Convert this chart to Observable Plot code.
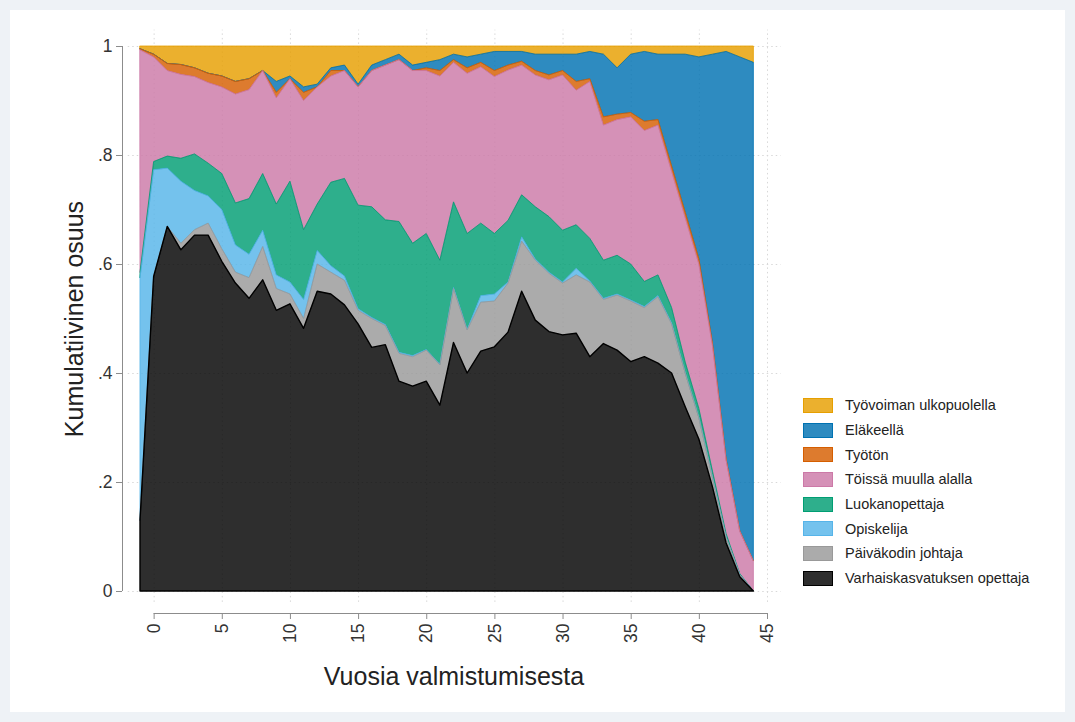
<!DOCTYPE html>
<html><head><meta charset="utf-8">
<script src="https://cdn.jsdelivr.net/npm/d3@7"></script>
<script src="https://cdn.jsdelivr.net/npm/@observablehq/plot@0.6"></script>
<style>
html,body{margin:0;padding:0;background:#eef2f6;width:1075px;height:722px;overflow:hidden;}
#page{position:absolute;left:10px;top:10px;width:1055px;height:702px;background:#fff;}
#chart{position:absolute;left:0;top:0;}
#legend{position:absolute;left:803px;top:393px;font-family:"Liberation Sans",Arial,sans-serif;font-size:14.5px;color:#222;}
.item{display:flex;align-items:center;height:24.7px;}
.sw{width:30px;height:15px;margin-right:12px;box-sizing:border-box;border:1px solid;}
</style></head><body>
<div id="page"></div><div id="chart"></div><div id="legend"></div>
<script>
// Years since graduation
const vuodet = [-1,0,1,2,3,4,5,6,7,8,9,10,11,12,13,14,15,16,17,18,19,20,21,22,23,24,25,26,27,28,29,30,31,32,33,34,35,36,37,38,39,40,41,42,43,44];

// Cumulative shares (upper edge of each layer)
const varhaiskasvatuksenOpettaja = [0.13,0.577,0.669,0.626,0.653,0.653,0.605,0.565,0.537,0.571,0.515,0.527,0.482,0.55,0.545,0.525,0.49,0.447,0.452,0.385,0.376,0.385,0.341,0.456,0.40,0.44,0.448,0.475,0.55,0.497,0.476,0.47,0.473,0.43,0.454,0.442,0.421,0.43,0.418,0.40,0.338,0.279,0.191,0.088,0.026,0];
const paivakodinJohtaja = [0.13,0.577,0.669,0.638,0.663,0.675,0.628,0.585,0.575,0.632,0.555,0.545,0.50,0.60,0.585,0.57,0.515,0.50,0.487,0.436,0.43,0.442,0.415,0.555,0.479,0.53,0.532,0.565,0.642,0.607,0.583,0.565,0.58,0.567,0.535,0.543,0.532,0.52,0.54,0.49,0.40,0.318,0.208,0.098,0.03,0];
const opiskelija = [0.575,0.773,0.776,0.752,0.735,0.725,0.70,0.635,0.618,0.662,0.58,0.567,0.535,0.625,0.597,0.578,0.518,0.502,0.489,0.438,0.432,0.443,0.416,0.557,0.48,0.542,0.545,0.567,0.65,0.609,0.585,0.567,0.592,0.569,0.537,0.545,0.534,0.522,0.542,0.492,0.40,0.318,0.208,0.098,0.03,0];
const luokanopettaja = [0.585,0.788,0.798,0.794,0.802,0.785,0.766,0.712,0.72,0.766,0.71,0.752,0.663,0.71,0.75,0.757,0.708,0.705,0.681,0.678,0.638,0.656,0.607,0.714,0.656,0.675,0.656,0.68,0.727,0.705,0.687,0.662,0.672,0.647,0.607,0.616,0.60,0.568,0.58,0.52,0.42,0.335,0.22,0.105,0.032,0];
const muullaAlalla = [0.993,0.98,0.955,0.948,0.944,0.933,0.925,0.912,0.92,0.955,0.905,0.94,0.90,0.925,0.945,0.955,0.925,0.955,0.965,0.975,0.955,0.955,0.945,0.97,0.95,0.962,0.944,0.956,0.965,0.947,0.938,0.947,0.919,0.935,0.855,0.865,0.87,0.845,0.855,0.77,0.685,0.60,0.45,0.24,0.11,0.055];
const tyoton = [0.995,0.985,0.968,0.966,0.96,0.95,0.945,0.935,0.94,0.955,0.915,0.94,0.915,0.925,0.955,0.955,0.925,0.955,0.965,0.975,0.955,0.96,0.955,0.975,0.96,0.97,0.955,0.965,0.972,0.955,0.947,0.955,0.935,0.94,0.87,0.875,0.878,0.862,0.865,0.78,0.695,0.61,0.455,0.242,0.11,0.055];
const elakkeella = [0.995,0.985,0.968,0.966,0.96,0.95,0.945,0.935,0.94,0.955,0.935,0.945,0.925,0.93,0.96,0.965,0.93,0.965,0.975,0.985,0.965,0.97,0.975,0.985,0.98,0.985,0.99,0.99,0.99,0.985,0.985,0.985,0.985,0.99,0.985,0.96,0.985,0.99,0.985,0.985,0.985,0.98,0.985,0.99,0.98,0.97];

const yTicks = [0, 0.2, 0.4, 0.6, 0.8, 1];
const xTicks = [0, 5, 10, 15, 20, 25, 30, 35, 40, 45];

// layers, top first (legend order)
const layers = [
  {name: "Työvoiman ulkopuolella", color: "#E69F00", lower: elakkeella, upper: 1},
  {name: "Eläkeellä", color: "#0072B2", lower: tyoton, upper: elakkeella},
  {name: "Työtön", color: "#D55E00", lower: muullaAlalla, upper: tyoton},
  {name: "Töissä muulla alalla", color: "#CC79A7", lower: luokanopettaja, upper: muullaAlalla},
  {name: "Luokanopettaja", color: "#009E73", lower: opiskelija, upper: luokanopettaja},
  {name: "Opiskelija", color: "#56B4E9", lower: paivakodinJohtaja, upper: opiskelija},
  {name: "Päiväkodin johtaja", color: "#999999", lower: varhaiskasvatuksenOpettaja, upper: paivakodinJohtaja},
  {name: "Varhaiskasvatuksen opettaja", color: "#000000", lower: 0, upper: varhaiskasvatuksenOpettaja}
];
const OP = 0.82;
const font = "'Liberation Sans', Arial, sans-serif";

const marks = [
  Plot.ruleY(yTicks, {x1: -1.9, x2: 46, stroke: "#d8d8d8", strokeDasharray: "1.5,3"}),
  Plot.ruleX(xTicks, {y1: -0.02, y2: 1.03, stroke: "#d8d8d8", strokeDasharray: "1.5,3"}),
  ...layers.map(l => Plot.areaY(vuodet, {
    x: vuodet, y1: l.lower, y2: l.upper,
    fill: l.color, fillOpacity: OP, stroke: l.color, strokeWidth: l.color === "#000000" ? 1.4 : 0.8
  })),
  Plot.ruleX([-1], {y1: 0, y2: 1, dx: -18, stroke: "#8c8c8c"}),
  Plot.ruleY([0], {x1: 0, x2: 45, dy: 22, stroke: "#8c8c8c"}),
  Plot.axisY(yTicks, {dx: -18, tickSize: 6, tickPadding: 4, fontSize: 17.5, stroke: "#8c8c8c", fill: "#333",
    tickFormat: d => d === 0 ? "0" : d === 1 ? "1" : String(d).replace(/^0/, ""), label: null}),
  Plot.axisX(xTicks, {dy: 22, tickSize: 6, tickPadding: 4, tickRotate: -90, textAnchor: "end", lineAnchor: "middle",
    fontSize: 17.5, stroke: "#8c8c8c", fill: "#333", label: null}),
  Plot.text(["Vuosia valmistumisesta"], {frameAnchor: "bottom", dy: 85, fontSize: 25, fill: "#222", textAnchor: "middle", lineAnchor: "middle"}),
  Plot.text(["Kumulatiivinen osuus"], {frameAnchor: "left", dx: -66, rotate: -90, fontSize: 25, fill: "#222", textAnchor: "middle", lineAnchor: "middle"})
];

const chart = Plot.plot({
  width: 1075, height: 722,
  marginLeft: 140, marginRight: 308, marginTop: 46, marginBottom: 131,
  x: {domain: [-1, 45], axis: null},
  y: {domain: [0, 1], axis: null},
  style: {background: "transparent", fontFamily: font, overflow: "visible"},
  marks
});
document.getElementById("chart").appendChild(chart);

const legend = document.getElementById("legend");
for (const l of layers) {
  const c = d3.color(l.color);
  const bg = d3.rgb(255 - OP * (255 - c.r), 255 - OP * (255 - c.g), 255 - OP * (255 - c.b));
  const item = document.createElement("div");
  item.className = "item";
  const sw = document.createElement("div");
  sw.className = "sw";
  sw.style.background = bg.formatHex();
  sw.style.borderColor = l.color;
  const t = document.createElement("span");
  t.textContent = l.name;
  item.appendChild(sw); item.appendChild(t);
  legend.appendChild(item);
}
</script></body></html>
